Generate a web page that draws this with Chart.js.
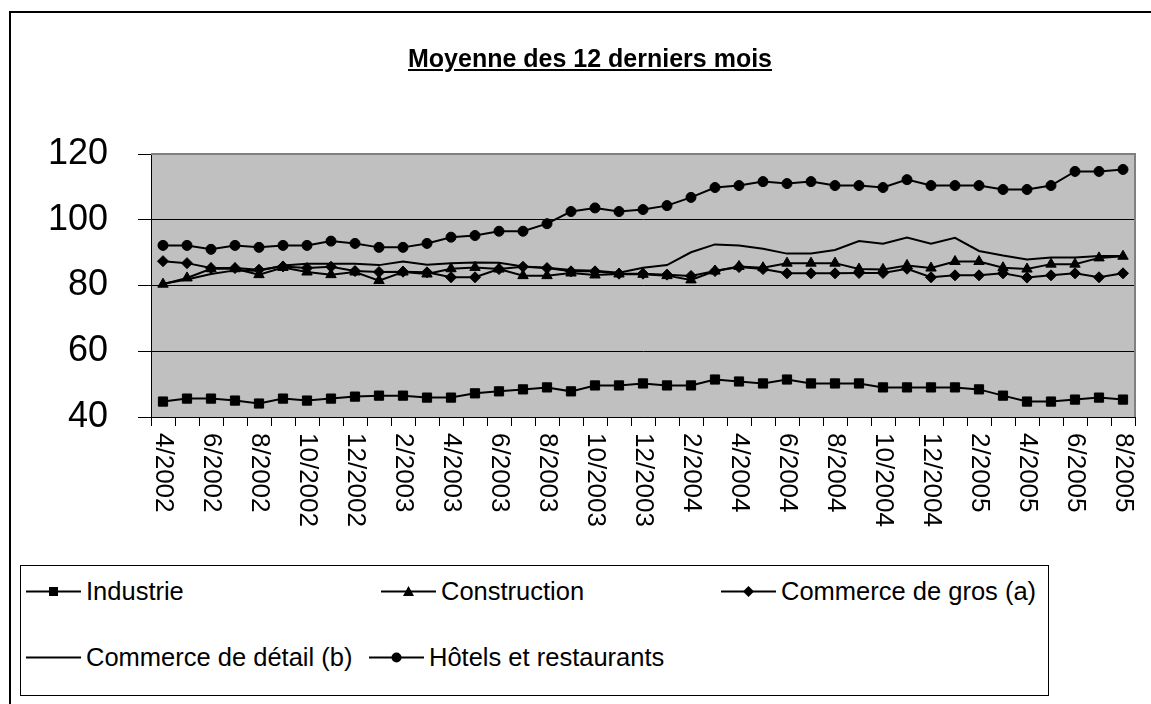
<!DOCTYPE html>
<html>
<head>
<meta charset="utf-8">
<script src="https://cdn.jsdelivr.net/npm/chart.js@4/dist/chart.umd.min.js"></script>
<style>
  body { margin: 0; background: #fff; font-family: "Liberation Sans", Arial, sans-serif; }
  #wrap { position: relative; width: 1151px; height: 704px; overflow: hidden; }
  #frame { position: absolute; left: 9px; top: 11px; width: 1300px; height: 900px; border: 2px solid #000; }
  #chart { position: absolute; left: 0; top: 0; }
  #title { position: absolute; left: 0; width: 1180px; top: 44px; text-align: center;
           font-weight: bold; font-size: 25px; text-decoration: underline; }
  #legend { position: absolute; left: 20px; top: 565px; width: 1029px; height: 131px;
            border: 1px solid #000; box-sizing: border-box; background: #fff; }
  .item { position: absolute; display: flex; align-items: center; font-size: 25.5px; white-space: nowrap; }
  .item svg { margin-right: 5px; }
</style>
</head>
<body>
<div id="wrap">
  <div id="frame"></div>
  <canvas id="chart" width="1151" height="704"></canvas>
  <div id="title">Moyenne des 12 derniers mois</div>
  <div id="legend"></div>
</div>
<script>
const months = [
  '4/2002', '5/2002', '6/2002', '7/2002', '8/2002', '9/2002', '10/2002', '11/2002', '12/2002',
  '1/2003', '2/2003', '3/2003', '4/2003', '5/2003', '6/2003', '7/2003', '8/2003', '9/2003',
  '10/2003', '11/2003', '12/2003', '1/2004', '2/2004', '3/2004', '4/2004', '5/2004', '6/2004',
  '7/2004', '8/2004', '9/2004', '10/2004', '11/2004', '12/2004', '1/2005', '2/2005', '3/2005',
  '4/2005', '5/2005', '6/2005', '7/2005', '8/2005'
];

const industrie = [
  44.7, 45.6, 45.6, 45.0, 44.1, 45.6, 45.0, 45.6, 46.2, 46.5, 46.5, 45.9, 45.9, 47.2,
  47.8, 48.4, 49.0, 47.8, 49.6, 49.6, 50.2, 49.6, 49.6, 51.4, 50.8, 50.2, 51.4, 50.2,
  50.2, 50.2, 49.0, 49.0, 49.0, 49.0, 48.4, 46.5, 44.7, 44.7, 45.3, 45.9, 45.3
];
const construction = [
  80.4, 82.3, 85.1, 85.1, 83.3, 85.5, 84.1, 83.3, 84.1, 81.5,
  84.1, 83.5, 85.1, 85.5, 85.0, 83.0, 83.0, 83.8, 83.2, 83.5,
  83.4, 83.0, 81.7, 84.4, 85.8, 85.4, 86.8, 86.8, 86.8, 85.0,
  84.9, 86.1, 85.3, 87.3, 87.3, 85.4, 85.0, 86.5, 86.5, 88.4, 88.9
];
const commerceGros = [
  87.4, 86.8, 85.3, 85.3, 84.8, 85.8, 85.3, 85.7, 84.4, 84.1,
  84.2, 84.0, 82.5, 82.5, 85.0, 85.7, 85.3, 84.3, 84.3, 83.6,
  83.6, 83.3, 82.9, 84.4, 85.6, 85.0, 83.7, 83.7, 83.7, 83.8,
  83.8, 85.1, 82.5, 83.1, 83.1, 83.7, 82.4, 83.1, 83.7, 82.5, 83.7
];
const commerceDetail = [
  80.5, 81.8, 83.5, 84.6, 84.5, 86.1, 86.6, 86.6, 86.6, 86.2,
  87.3, 86.3, 86.8, 87.0, 86.9, 85.8, 85.4, 84.7, 84.5, 83.9,
  85.4, 86.2, 90.1, 92.5, 92.2, 91.2, 89.7, 89.7, 90.8, 93.5,
  92.7, 94.6, 92.7, 94.5, 90.5, 89.1, 87.9, 88.5, 88.5, 89.0, 89.0
];
const hotels = [
  92.2, 92.2, 91.0, 92.2, 91.6, 92.2, 92.2, 93.5, 92.8, 91.6, 91.6, 92.8, 94.7, 95.2,
  96.5, 96.5, 98.8, 102.5, 103.6, 102.5, 103.1, 104.3, 106.8, 109.8, 110.4, 111.6, 111.0, 111.6,
  110.4, 110.4, 109.8, 112.2, 110.4, 110.4, 110.4, 109.2, 109.2, 110.4, 114.7, 114.7, 115.3
];

const yTicks = [40, 60, 80, 100, 120];

// name, values, marker style, marker radius, legend slot
const series = [
  { name: 'Industrie', data: industrie, style: 'rect', r: 6.5, pos: [5, 26] },
  { name: 'Construction', data: construction, style: 'triangle', r: 6, pos: [360, 26] },
  { name: 'Commerce de gros (a)', data: commerceGros, style: 'rectRot', r: 5.5, pos: [700, 26] },
  { name: 'Commerce de détail (b)', data: commerceDetail, style: false, r: 0, pos: [5, 92] },
  { name: 'Hôtels et restaurants', data: hotels, style: 'circle', r: 5, pos: [348, 92] }
];

// grey plot background + border
const plotBg = {
  id: 'plotBg',
  beforeDraw(chart) {
    const { ctx, chartArea: a } = chart;
    ctx.save();
    ctx.fillStyle = '#c0c0c0';
    ctx.fillRect(a.left, a.top, a.right - a.left, a.bottom - a.top);
    ctx.restore();
  },
  beforeDatasetsDraw(chart) {
    const { ctx, chartArea: a } = chart;
    ctx.save();
    ctx.strokeStyle = '#808080';
    ctx.lineWidth = 2;
    ctx.beginPath();
    ctx.moveTo(a.left, a.top);
    ctx.lineTo(a.right, a.top);
    ctx.lineTo(a.right, a.bottom);
    ctx.stroke();
    ctx.restore();
  }
};

// month labels, turned a quarter clockwise, every other month
const xLabels = {
  id: 'xLabels',
  afterDraw(chart) {
    const { ctx } = chart;
    const x = chart.scales.x;
    ctx.save();
    ctx.fillStyle = '#000';
    ctx.font = '26px "Liberation Sans", Arial, sans-serif';
    ctx.textAlign = 'left';
    ctx.textBaseline = 'middle';
    months.forEach((m, i) => {
      if (i % 2) return;
      ctx.save();
      ctx.translate(x.getPixelForValue(i), x.top + 16);
      ctx.rotate(Math.PI / 2);
      ctx.fillText(m, 0, 0);
      ctx.restore();
    });
    ctx.restore();
  }
};

new Chart(document.getElementById('chart'), {
  type: 'line',
  data: {
    labels: months,
    datasets: series.map(s => ({
      label: s.name,
      data: s.data,
      borderColor: '#000',
      backgroundColor: '#000',
      borderWidth: 2,
      pointStyle: s.style,
      pointRadius: s.r,
      pointBorderWidth: 1,
      pointBackgroundColor: '#000',
      pointBorderColor: '#000',
      tension: 0,
      fill: false
    }))
  },
  options: {
    responsive: false,
    animation: false,
    layout: { padding: { top: 154, right: 16, bottom: 0, left: 0 } },
    plugins: {
      legend: { display: false },
      tooltip: { enabled: false }
    },
    scales: {
      x: {
        offset: true,
        afterFit: s => { s.height = 287; },
        grid: { offset: true, drawOnChartArea: false, color: '#000', tickLength: 9 },
        border: { color: '#000', width: 1 },
        ticks: { display: false, autoSkip: false }
      },
      y: {
        min: 40,
        max: 120,
        afterFit: s => { s.width = 151; },
        afterBuildTicks: s => { s.ticks = yTicks.map(v => ({ value: v })); },
        grid: {
          color: ctx => ctx.tick && ctx.tick.value === 120 ? '#808080' : '#000',
          tickColor: '#000',
          tickLength: 13
        },
        border: { color: '#000', width: 1 },
        ticks: {
          color: '#000',
          padding: 30,
          font: { family: '"Liberation Sans", Arial, sans-serif', size: 36 }
        }
      }
    }
  },
  plugins: [plotBg, xLabels]
});

// legend built from the same series list
const legend = document.getElementById('legend');
series.forEach(s => {
  const el = document.createElement('div');
  el.className = 'item';
  el.style.left = s.pos[0] + 'px';
  el.style.top = (s.pos[1] - 15) + 'px';
  let mark = '';
  if (s.style === 'rect') mark = '<rect x="23" y="8" width="9" height="9"/>';
  if (s.style === 'triangle') mark = '<polygon points="27.5,7 33,17 22,17"/>';
  if (s.style === 'rectRot') mark = '<polygon points="27.5,7 33,12.5 27.5,18 22,12.5"/>';
  if (s.style === 'circle') mark = '<circle cx="27.5" cy="12.5" r="5"/>';
  el.innerHTML = '<svg width="55" height="25"><line x1="0" y1="12.5" x2="55" y2="12.5" stroke="#000" stroke-width="2"/>' +
    mark + '</svg><span>' + s.name + '</span>';
  legend.appendChild(el);
});
</script>
</body>
</html>
